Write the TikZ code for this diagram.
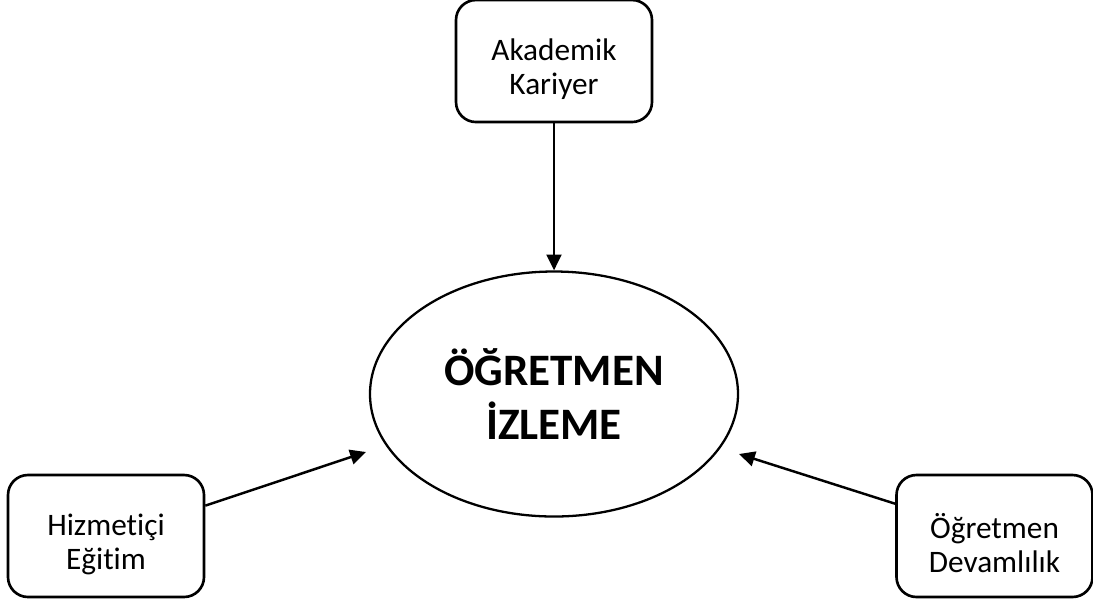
\documentclass[tikz,border=0pt]{standalone}
\usepackage{fontspec}
\setmainfont{Carlito}[Ligatures=NoCommon,Contextuals=NoAlternate]
\usetikzlibrary{shapes,arrows.meta,positioning}
\tikzstyle{Block} = [draw, rounded corners=0.4cm, line width=1.5pt, minimum height=2.44cm, minimum width=3.92cm, align=center, font=\fontsize{17.8}{19.5}\selectfont]
\tikzstyle{Center} = [draw, ellipse, line width=1.3pt, minimum height=4.9cm, minimum width=7.36cm, align=center, font=\fontsize{25.6}{30.6}\selectfont\bfseries]
\tikzstyle{Link} = [line width=1.4pt, -{Triangle[length=9pt,width=8.5pt]}]
\newcommand{\topstrut}{\rule{0pt}{22pt}}

\begin{document}
\begin{tikzpicture}
    \useasboundingbox (0,0) rectangle (21.86,-12);
    \node[Center] (izleme)    at (11.08,-7.88)       {ÖĞRETMEN\\İZLEME};
    \node[Block]  (akademik)  [above=2.94cm of izleme] {\topstrut Akademik\\Kariyer};
    \node[Block]  (hizmetici) at (2.12,-10.72)       {\topstrut Hizmetiçi\\Eğitim};
    \node[Block]  (devam)     at (19.89,-10.72)      {\topstrut Öğretmen\\Devamlılık};
    \coordinate (lefttip)  at (7.32,-9.04);
    \coordinate (righttip) at (14.78,-9.08);
    \draw[Link] (akademik)     to (izleme);
    \draw[Link] (hizmetici.17.5) to (lefttip);
    \draw[Link] (devam.162.4)    to (righttip);
  \end{tikzpicture}
\end{document}
